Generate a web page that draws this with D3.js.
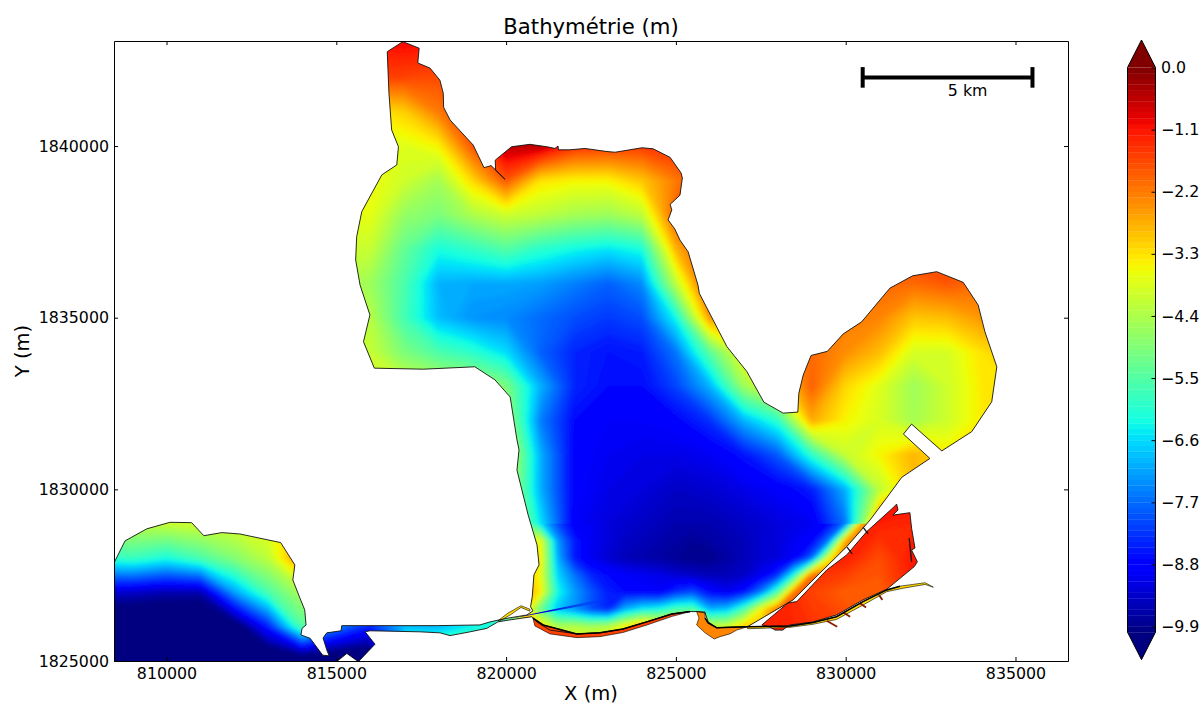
<!DOCTYPE html>
<html>
<head>
<meta charset="utf-8">
<script src="https://cdn.jsdelivr.net/npm/d3@7"></script>
<style>
  html, body { margin: 0; background: #fff; }
  svg { display: block; }
  text { font-family: "DejaVu Sans", sans-serif; fill: #000; }
  .axis path, .axis line { stroke: #000; stroke-width: 1; }
  .axis text { font-size: 15.8px; font-family: "DejaVu Sans", sans-serif; }
</style>
</head>
<body>
<div id="chart"></div>
<script>
const xTicks = [810000, 815000, 820000, 825000, 830000, 835000];
const yTicks = [1825000, 1830000, 1835000, 1840000];
const depthTicks = [0, -1.1, -2.2, -3.3, -4.4, -5.5, -6.6, -7.7, -8.8, -9.9];
const xExtent = [808454, 836546];
const yExtent = [1825000, 1843060];

// depth, one value per km, north to south, x from 808 to 837 km
const depthRows = [
  /*1843*/ [-3,-3,-3,-3,-3,-3,-3,-3,-1.1,-1,-1.1,-2,-2,-2,-2,-2,-2,-2,-2,-2,-2,-2,-2,-2,-2,-2,-2,-2,-2,-2],
  /*1842*/ [-3,-3,-3,-3,-3,-3,-3,-3,-1.5,-1.6,-1.7,-1.8,-1.5,-1.5,-1.5,-1.5,-1.5,-1.5,-2,-2,-2,-2,-2,-2,-2,-2,-2,-2,-2,-2],
  /*1841*/ [-3,-3,-3,-3,-3,-3,-3,-3,-3.4,-3.1,-2.2,-1.5,-0.6,-0.5,-1,-1.3,-1.4,-1.4,-1.5,-2,-2,-2,-2,-2,-2,-2,-2,-2,-2,-2],
  /*1840*/ [-3,-3,-3,-3,-3,-3,-3,-3,-3.8,-3.8,-3.5,-1.8,-0.5,-0.5,-1.4,-1.5,-1.5,-1.3,-1.5,-2,-2,-2,-2,-2,-2,-2,-2,-2,-2,-2],
  /*1839*/ [-3,-3,-3,-3,-3,-3,-3,-3.6,-3.6,-4,-4.5,-3.2,-1.8,-3.3,-3.5,-3.5,-3,-2.2,-1.5,-2,-2,-2,-2,-2,-2,-2,-2,-2,-2,-2],
  /*1838*/ [-3,-3,-3,-3,-3,-3,-3,-3.7,-3.7,-4.7,-5,-4.4,-4,-4.2,-4.5,-4.6,-4.2,-1.8,-1.5,-2,-2,-2,-2,-2,-2,-2,-2,-2,-2,-2],
  /*1837*/ [-3,-3,-3,-3,-3,-3,-3,-4,-4.1,-5.3,-6.2,-5.9,-5.5,-6,-6.3,-6.5,-6.2,-2.8,-1.5,-2,-2,-2,-2,-2,-1.5,-1.5,-2,-2,-2,-2],
  /*1836*/ [-3,-3,-3,-3,-3,-3,-3,-4.3,-4.6,-5.6,-7,-7.1,-7.1,-7.2,-7.5,-7.8,-7.4,-4.2,-1.5,-1.5,-2,-2,-2,-2,-2,-1.8,-2,-2,-2,-2],
  /*1835*/ [-3,-3,-3,-3,-3,-3,-3,-4.2,-4.3,-5.7,-6.9,-7.3,-7.4,-7.7,-8,-8.2,-8,-6.3,-2.5,-2.5,-2.5,-2.2,-2.2,-2.3,-3,-2.9,-2.5,-2.5,-2.5,-2.5],
  /*1834*/ [-3,-3,-3,-3,-3,-3,-3,-4,-4.1,-5,-5.6,-6,-6.6,-7.8,-8.4,-8.6,-8.5,-7.6,-5.4,-3.5,-2.5,-2,-2.4,-2.9,-3.9,-3.9,-3.3,-3,-3,-3],
  /*1833*/ [-3,-3,-3,-3,-3,-3,-3,-3.9,-3.9,-4,-4.2,-4.4,-5,-7,-8.4,-8.7,-8.7,-8.1,-7,-4.6,-3.5,-1.9,-3.2,-3.8,-4.6,-4,-3.4,-3.3,-3,-3],
  /*1832*/ [-3,-3,-3,-3,-3,-3,-3,-3,-4,-4,-4,-4.2,-4.5,-7.5,-8.7,-8.9,-8.9,-8.8,-8.3,-7,-6,-2.7,-3.5,-3.9,-4.5,-4,-3.4,-3.3,-3,-3],
  /*1831*/ [-3,-3,-3,-3,-3,-3,-3,-3,-4,-4,-4,-4,-3.8,-7,-8.8,-9,-9.1,-9.1,-9,-8.6,-7.9,-6,-4.1,-3.5,-2.8,-3.4,-3.4,-3.3,-3,-3],
  /*1830*/ [-4,-4,-4,-4,-4,-4,-3,-3,-4,-4,-4,-4,-4,-7,-8.8,-9.1,-9.2,-9.4,-9.3,-9.1,-8.9,-8.5,-7,-4.2,-3,-3,-3,-3,-3,-3],
  /*1829*/ [-4.3,-4.2,-4.1,-4,-3.9,-3.7,-3,-3,-3.5,-3.5,-3.5,-3.5,-3.5,-6.5,-8.9,-9.2,-9.4,-9.6,-9.6,-9.4,-9.2,-9,-7.6,-2,-3,-3,-3,-3,-3,-3],
  /*1828*/ [-6,-5.8,-6.2,-5.6,-4.9,-4.2,-2.2,-3,-3,-3,-3,-3,-3,-4,-8.5,-9.3,-9.6,-9.8,-9.9,-9.5,-9.2,-7.8,-2,-2,-3,-3,-3,-3,-3,-3],
  /*1827*/ [-9.3,-9.4,-9.6,-9.6,-7.2,-5.6,-4.4,-4,-5,-5,-5,-5,-3,-3.4,-7.2,-8.5,-8.8,-8.3,-8.7,-8.6,-5.5,-2,-3,-3,-3,-3,-3,-3,-3,-3],
  /*1826*/ [-11,-11,-11,-11,-10.5,-8.5,-5.5,-7.5,-8.5,-7,-7,-6.4,-6.2,-3.2,-4.3,-4.3,-2.5,-3,-4,-3,-2,-3,-3,-3,-3,-3,-3,-3,-3,-3],
  /*1825*/ [-11,-11,-11,-11,-11,-11,-11,-11,-11,-4,-4,-4,-4,-4,-4,-4,-4,-4,-4,-4,-4,-4,-4,-4,-4,-4,-4,-4,-4,-4]
];
const depthX0 = 808000, depthY0 = 1825000, depthStep = 1000;

// south of the basin read closer, every 500 m, x from 820.5 to 831 km, y from 1829 down to 1825.5 km
const shoalRows = [
  [-5,-6.5,-8,-8.9,-9,-9.2,-9.3,-9.4,-9.5,-9.6,-9.6,-9.6,-9.5,-9.4,-9.3,-9.2,-9.1,-9,-8.7,-7.6,-2.5,-2],
  [-4,-3.6,-7.2,-8.5,-9,-9.2,-9.4,-9.5,-9.6,-9.7,-9.8,-9.7,-9.6,-9.5,-9.3,-9.2,-9,-8.8,-7.6,-2.6,-2,-2],
  [-3,-3.4,-7,-8.5,-9,-9.3,-9.5,-9.6,-9.7,-9.8,-9.9,-9.9,-9.7,-9.5,-9.3,-9.2,-8.9,-7.8,-3.6,-2,-2,-2],
  [-2.8,-3.6,-6.6,-7.6,-8.4,-8.7,-8.9,-9,-9.1,-9.3,-9.4,-9.5,-9.5,-9.4,-9,-8.3,-6,-2,-2,-2,-2,-2],
  [-2.5,-3.4,-6.2,-7.2,-7.9,-8.5,-8.7,-8.8,-8.9,-8.3,-8,-8.7,-9,-8.6,-7.5,-5.5,-2,-2,-2,-2,-2,-2],
  [-3,-5.2,-6.8,-7.3,-8,-8.4,-7,-6.4,-6.2,-5.6,-5.5,-7,-6.8,-5.6,-3.5,-2,-2,-2,-2,-2,-2,-2],
  [-3,-3.2,-4.4,-4.3,-4.5,-4.3,-3.4,-2.5,-3,-3,-3,-4,-4,-3,-3,-2,-2,-2,-2,-2,-2,-2],
  [-3.5,-3.5,-3.5,-3.5,-3.5,-3.5,-3.5,-3.5,-3.5,-3.5,-3.5,-3.5,-3.5,-3.5,-3.5,-3.5,-3.5,-3.5,-3.5,-3.5,-3.5,-3.5]
];
const shoalX0 = 820500, shoalY0 = 1825500, shoalStep = 500;

// east barrier lagoon, x from 827 to 834 km, north to south
const lagoonRows = [
  /*1830*/ [-1,-1,-1,-1,-1,-1,-1,-1],
  /*1829*/ [-1.2,-1.2,-1.2,-1.2,-1.2,-1.3,-1.3,-1.3],
  /*1828*/ [-1.2,-1.2,-1.2,-1.2,-1.7,-1.1,-1.2,-1.2],
  /*1827*/ [-1.2,-1.2,-1.6,-1.9,-1.9,-1.2,-1.2,-1.2],
  /*1826*/ [-1.3,-1.2,-1.4,-1.6,-1.7,-1.3,-1.3,-1.3],
  /*1825*/ [-1.3,-1.3,-1.3,-1.3,-1.3,-1.3,-1.3,-1.3]
];
const lagoonX0 = 827000, lagoonY0 = 1825000, lagoonStep = 1000;

const basinCoast = [[816500,1842750],[816960,1843040],[817440,1842850],[817400,1842420],[817760,1842270],[818050,1841920],[818150,1841540],[818160,1841130],[818350,1840760],[819030,1840030],[819350,1839370],[819560,1839430],[819970,1839030],[819690,1839300],[819680,1839590],[820160,1839980],[820700,1840050],[821200,1839980],[821440,1839930],[821530,1840000],[821540,1839890],[821880,1839890],[822320,1839930],[822970,1839840],[823210,1839820],[824000,1839950],[824330,1839920],[824830,1839670],[825150,1839220],[825190,1839070],[825120,1838570],[824970,1838430],[824830,1838300],[824880,1838140],[824770,1837850],[824970,1837580],[825120,1837260],[825360,1836920],[825650,1835950],[825690,1835710],[826500,1834160],[827090,1833430],[827590,1832540],[828160,1832220],[828590,1832250],[828620,1832800],[828750,1833330],[828980,1833900],[829460,1834020],[829930,1834530],[830470,1834880],[831300,1835860],[831970,1836220],[832680,1836340],[833460,1836030],[833900,1835370],[834100,1834590],[834450,1833570],[834300,1832550],[833710,1831680],[832830,1831120],[831940,1831900],[831700,1831610],[832480,1830900],[831650,1830350],[831160,1829690],[830720,1829110],[830030,1828330],[829240,1827560],[828450,1826780],[827110,1826000],[826200,1825970],[825950,1826140],[825860,1826400],[825650,1826440],[825420,1826440],[824880,1826370],[824140,1826140],[823440,1825930],[822760,1825820],[822080,1825790],[821290,1825900],[820900,1826140],[820760,1826290],[820060,1826190],[819760,1826140],[819430,1825950],[818940,1825850],[818350,1825740],[818050,1825820],[817460,1825850],[815990,1825880],[815850,1825850],[816140,1825490],[815650,1824980],[815310,1825220],[815010,1824980],[808300,1824980],[808400,1827750],[808780,1828500],[809420,1828850],[810100,1829040],[810740,1829030],[811100,1828650],[811630,1828740],[812160,1828700],[813360,1828450],[813780,1827800],[813720,1827360],[813930,1826830],[814070,1826490],[814110,1826050],[813990,1825950],[813960,1825760],[814230,1825660],[814600,1825170],[814790,1825150],[814720,1825320],[814610,1825670],[814720,1825820],[815140,1825880],[815160,1826030],[817960,1826030],[819230,1826050],[819530,1826140],[819760,1826190],[820060,1826250],[820610,1826340],[820790,1826460],[820720,1826580],[820770,1826870],[820820,1827510],[820970,1827800],[820910,1828380],[820650,1829250],[820320,1830560],[820380,1831150],[820320,1831440],[820120,1832690],[819670,1833190],[819080,1833570],[817560,1833500],[816120,1833530],[815800,1834300],[815990,1835080],[815700,1835950],[815570,1836680],[815600,1837360],[815750,1838090],[816340,1839160],[816780,1839450],[816830,1839980],[816630,1840470],[816550,1841540]];
const lagoon = [[827530,1826050],[828300,1826690],[828560,1826730],[829440,1827650],[830030,1828090],[830620,1828770],[831390,1829460],[831500,1829570],[831540,1829400],[831390,1829250],[831890,1829320],[831940,1828870],[832040,1828290],[831940,1828230],[832110,1827890],[832020,1827750],[831210,1827090],[830510,1826780],[829730,1826340],[829040,1826140],[828360,1826050],[828260,1825990],[828150,1825900],[827920,1825900],[827770,1825990]];
const eastSpit = [[827110,1826000],[828360,1826020],[829040,1826120],[829730,1826290],[830510,1826730],[831210,1827070],[831600,1827180],[832340,1827280],[832580,1827150],[832340,1827230],[831690,1827120],[831210,1827020],[830510,1826630],[829730,1826210],[829040,1826070],[828360,1825980],[827110,1825940]];
const southStrip = [[820790,1826250],[821090,1826050],[822080,1825790],[822760,1825820],[823440,1825930],[824140,1826140],[824880,1826370],[825420,1826440],[824890,1826300],[824150,1826050],[823440,1825830],[822760,1825710],[822090,1825680],[821290,1825790],[820850,1826020]];
const southBlob = [[825610,1826440],[825860,1826430],[825860,1826250],[825950,1826110],[826200,1825970],[827110,1826000],[826790,1825900],[826590,1825790],[826300,1825710],[826130,1825640],[825860,1825820],[825610,1826050],[825680,1826250]];
const westSpit = [[819760,1826170],[820060,1826400],[820440,1826610],[820700,1826510],[820700,1826450],[820440,1826560],[820120,1826340],[819820,1826170]];
const dredgedCut = [[820060,1826220],[822760,1826790],[822760,1826700]];
const stripDepth = -1.6, blobDepth = -2.3, eastSpitDepth = -3.2, westSpitDepth = -3.2, cutDepth = -9.2;

const groynes = [
  [[829440,1826170],[829750,1826000]],
  [[829930,1826410],[830130,1826290]],
  [[830420,1826680],[830600,1826560]],
  [[830980,1826920],[831080,1826780]]
];
const sluices = [
  [[830040,1828320],[830190,1828120]],
  [[830510,1828900],[830660,1828700]],
  [[831870,1828580],[831940,1827890]]
];
const scaleBarX = [830500, 835500];
const scaleBarY = 1842000, scaleBarCap = 300;

const width = 1202, height = 704;
const margin = { top: 41, right: 134, bottom: 43, left: 114 };

const x = d3.scaleLinear().domain(xExtent).range([margin.left, width - margin.right]);
const y = d3.scaleLinear().domain(yExtent).range([height - margin.bottom, margin.top]);

// same break points as the matplotlib jet map
const jetR = d3.scaleLinear().domain([0, 0.35, 0.66, 0.89, 1]).range([0, 0, 1, 1, 0.5]);
const jetG = d3.scaleLinear().domain([0, 0.125, 0.375, 0.64, 0.91, 1]).range([0, 0, 1, 1, 0, 0]);
const jetB = d3.scaleLinear().domain([0, 0.11, 0.34, 0.65, 1]).range([0.5, 1, 1, 0, 0]);
const depthNorm = d3.scaleLinear().domain([-10, 0]).range([0, 1]).clamp(true);
function jet(depth) {
  let t = depthNorm(depth);
  return d3.rgb(jetR(t) * 255, jetG(t) * 255, jetB(t) * 255).formatRgb();
}

const levels = d3.range(0, 100).map(i => -10 + i * 0.1);
// anything under the last level still paints, as navy
const fieldLevels = [-30].concat(levels);

let svg = d3.select('#chart').append('svg')
  .attr('width', width)
  .attr('height', height);

let defs = svg.append('defs');
defs.append('clipPath').attr('id', 'axes-clip').append('rect')
  .attr('x', margin.left).attr('y', margin.top)
  .attr('width', width - margin.left - margin.right)
  .attr('height', height - margin.top - margin.bottom);

const line = d3.line().x(d => x(d[0])).y(d => y(d[1]));
const ring = pts => line(pts) + 'Z';

defs.append('clipPath').attr('id', 'basin-clip').append('path').attr('d', ring(basinCoast));
defs.append('clipPath').attr('id', 'lagoon-clip').append('path').attr('d', ring(lagoon));
const shoalX1 = shoalX0 + (shoalRows[0].length - 1) * shoalStep;
const shoalY1 = shoalY0 + (shoalRows.length - 1) * shoalStep;
defs.append('clipPath').attr('id', 'shoal-clip').attr('clip-path', 'url(#basin-clip)').append('rect')
  .attr('x', x(shoalX0)).attr('y', y(shoalY1))
  .attr('width', x(shoalX1) - x(shoalX0))
  .attr('height', y(shoalY0) - y(shoalY1));

// takes the grid kinks out of the filled bands
defs.append('filter').attr('id', 'soften')
  .attr('filterUnits', 'userSpaceOnUse')
  .attr('x', 0).attr('y', 0).attr('width', width).attr('height', height)
  .append('feGaussianBlur').attr('stdDeviation', 2);

let fade = defs.append('linearGradient').attr('id', 'cut-fade')
  .attr('gradientUnits', 'userSpaceOnUse')
  .attr('x1', x(dredgedCut[0][0])).attr('x2', x(dredgedCut[1][0]))
  .attr('y1', y(dredgedCut[0][1])).attr('y2', y(dredgedCut[1][1]));
fade.append('stop').attr('offset', 0.45).attr('stop-color', jet(cutDepth)).attr('stop-opacity', 1);
fade.append('stop').attr('offset', 1).attr('stop-color', jet(cutDepth)).attr('stop-opacity', 0);

let plot = svg.append('g').attr('clip-path', 'url(#axes-clip)');

function drawField(clipId, rows, x0, y0, step) {
  let nx = rows[0].length, ny = rows.length;
  let values = rows.slice().reverse().flat();
  let contours = d3.contours().size([nx, ny]).thresholds(fieldLevels)(values);
  let toPixels = d3.geoTransform({
    point: function (cx, cy) {
      this.stream.point(x(x0 + (cx - 0.5) * step), y(y0 + (cy - 0.5) * step));
    }
  });
  let path = d3.geoPath(toPixels);
  plot.append('g')
    .attr('clip-path', `url(#${clipId})`)
    .append('g')
    .attr('filter', 'url(#soften)')
    .selectAll('path')
    .data(contours)
    .join('path')
    .attr('d', path)
    .attr('fill', d => jet(d.value + 0.05))
    .attr('stroke', d => jet(d.value + 0.05))
    .attr('stroke-width', 0.4);
}

drawField('basin-clip', depthRows, depthX0, depthY0, depthStep);
drawField('shoal-clip', shoalRows, shoalX0, shoalY0, shoalStep);
plot.append('g').attr('clip-path', 'url(#basin-clip)')
  .append('path').attr('d', ring(dredgedCut)).attr('fill', 'url(#cut-fade)');
drawField('lagoon-clip', lagoonRows, lagoonX0, lagoonY0, lagoonStep);

// thin shore pieces with one depth each
[[southStrip, stripDepth], [southBlob, blobDepth], [eastSpit, eastSpitDepth], [westSpit, westSpitDepth]].forEach(piece => {
  plot.append('path')
    .attr('d', ring(piece[0]))
    .attr('fill', jet(piece[1]))
    .attr('stroke', '#000')
    .attr('stroke-width', 0.6);
});

plot.selectAll('.groyne')
  .data(groynes)
  .join('path')
  .attr('class', 'groyne')
  .attr('d', line)
  .attr('fill', 'none')
  .attr('stroke', '#8a1a00')
  .attr('stroke-width', 1.8);

plot.selectAll('.sluice')
  .data(sluices)
  .join('path')
  .attr('class', 'sluice')
  .attr('d', line)
  .attr('fill', 'none')
  .attr('stroke', '#111')
  .attr('stroke-width', 1.3);

plot.append('path').attr('d', ring(basinCoast))
  .attr('fill', 'none').attr('stroke', '#111').attr('stroke-width', 0.9);
plot.append('path').attr('d', ring(lagoon))
  .attr('fill', 'none').attr('stroke', '#111').attr('stroke-width', 0.9);

// the heavier shore line along the south side
[southStrip.slice(0, 8), southBlob.slice(2, 6), eastSpit.slice(0, 7)].forEach(shore => {
  plot.append('path').attr('d', line(shore))
    .attr('fill', 'none').attr('stroke', '#000').attr('stroke-width', 1.5);
});

// scale bar
let bar = svg.append('g').attr('stroke', '#000').attr('stroke-width', 4);
bar.append('line')
  .attr('x1', x(scaleBarX[0])).attr('x2', x(scaleBarX[1]))
  .attr('y1', y(scaleBarY)).attr('y2', y(scaleBarY));
scaleBarX.forEach(v => {
  bar.append('line')
    .attr('x1', x(v)).attr('x2', x(v))
    .attr('y1', y(scaleBarY + scaleBarCap)).attr('y2', y(scaleBarY - scaleBarCap));
});
svg.append('text')
  .attr('x', x(scaleBarX[0]) + 105).attr('y', 95.5)
  .attr('text-anchor', 'middle')
  .style('font-size', '15.8px')
  .text('5 km');

// axes, ticks point inward on all four sides
const fmt = d3.format('d');
svg.append('g').attr('class', 'axis')
  .attr('transform', `translate(0,${height - margin.bottom})`)
  .call(d3.axisBottom(x).tickValues(xTicks).tickFormat(fmt).tickSizeOuter(0).tickSizeInner(-4).tickPadding(7));
svg.append('g').attr('class', 'axis')
  .attr('transform', `translate(0,${margin.top})`)
  .call(d3.axisTop(x).tickValues(xTicks).tickFormat('').tickSizeOuter(0).tickSizeInner(-4));
svg.append('g').attr('class', 'axis')
  .attr('transform', `translate(${margin.left},0)`)
  .call(d3.axisLeft(y).tickValues(yTicks).tickFormat(fmt).tickSizeOuter(0).tickSizeInner(-4).tickPadding(5));
svg.append('g').attr('class', 'axis')
  .attr('transform', `translate(${width - margin.right},0)`)
  .call(d3.axisRight(y).tickValues(yTicks).tickFormat('').tickSizeOuter(0).tickSizeInner(-4));

svg.append('text').attr('x', 591).attr('y', 34).attr('text-anchor', 'middle')
  .style('font-size', '21.2px').text('Bathymétrie (m)');
svg.append('text').attr('x', 591).attr('y', 699.5).attr('text-anchor', 'middle')
  .style('font-size', '19.5px').text('X (m)');
svg.append('text').attr('transform', 'translate(29,351) rotate(-90)').attr('text-anchor', 'middle')
  .style('font-size', '19.5px').text('Y (m)');

// colour bar
const cbLeft = 1127.5, cbRight = 1155.5, cbMid = (cbLeft + cbRight) / 2;
const cbY = d3.scaleLinear().domain([0, -9.9]).range([67.5, 626.5]);
const cbTip = 27.5;
let cb = svg.append('g');
cb.selectAll('rect')
  .data(levels)
  .join('rect')
  .attr('x', cbLeft)
  .attr('width', cbRight - cbLeft)
  .attr('y', d => cbY(d + 0.1))
  .attr('height', d => cbY(d) - cbY(d + 0.1) + 0.3)
  .attr('fill', d => jet(d + 0.05));
const topEnd = cbY(0), lowEnd = cbY(-10);
cb.append('path')
  .attr('d', `M${cbLeft},${topEnd}L${cbMid},${topEnd - cbTip}L${cbRight},${topEnd}Z`)
  .attr('fill', jet(0));
cb.append('path')
  .attr('d', `M${cbLeft},${lowEnd}L${cbMid},${lowEnd + cbTip}L${cbRight},${lowEnd}Z`)
  .attr('fill', jet(-10));
cb.append('path')
  .attr('d', `M${cbLeft},${topEnd}L${cbMid},${topEnd - cbTip}L${cbRight},${topEnd}L${cbRight},${lowEnd}L${cbMid},${lowEnd + cbTip}L${cbLeft},${lowEnd}Z`)
  .attr('fill', 'none').attr('stroke', '#000').attr('stroke-width', 1);
let cbAxis = svg.append('g').attr('class', 'axis')
  .attr('transform', `translate(${cbRight},0)`)
  .call(d3.axisRight(cbY).tickValues(depthTicks).tickFormat(d3.format('.1f')).tickSizeOuter(0).tickSizeInner(-4).tickPadding(5.5));
cbAxis.select('.domain').remove();
</script>
</body>
</html>
